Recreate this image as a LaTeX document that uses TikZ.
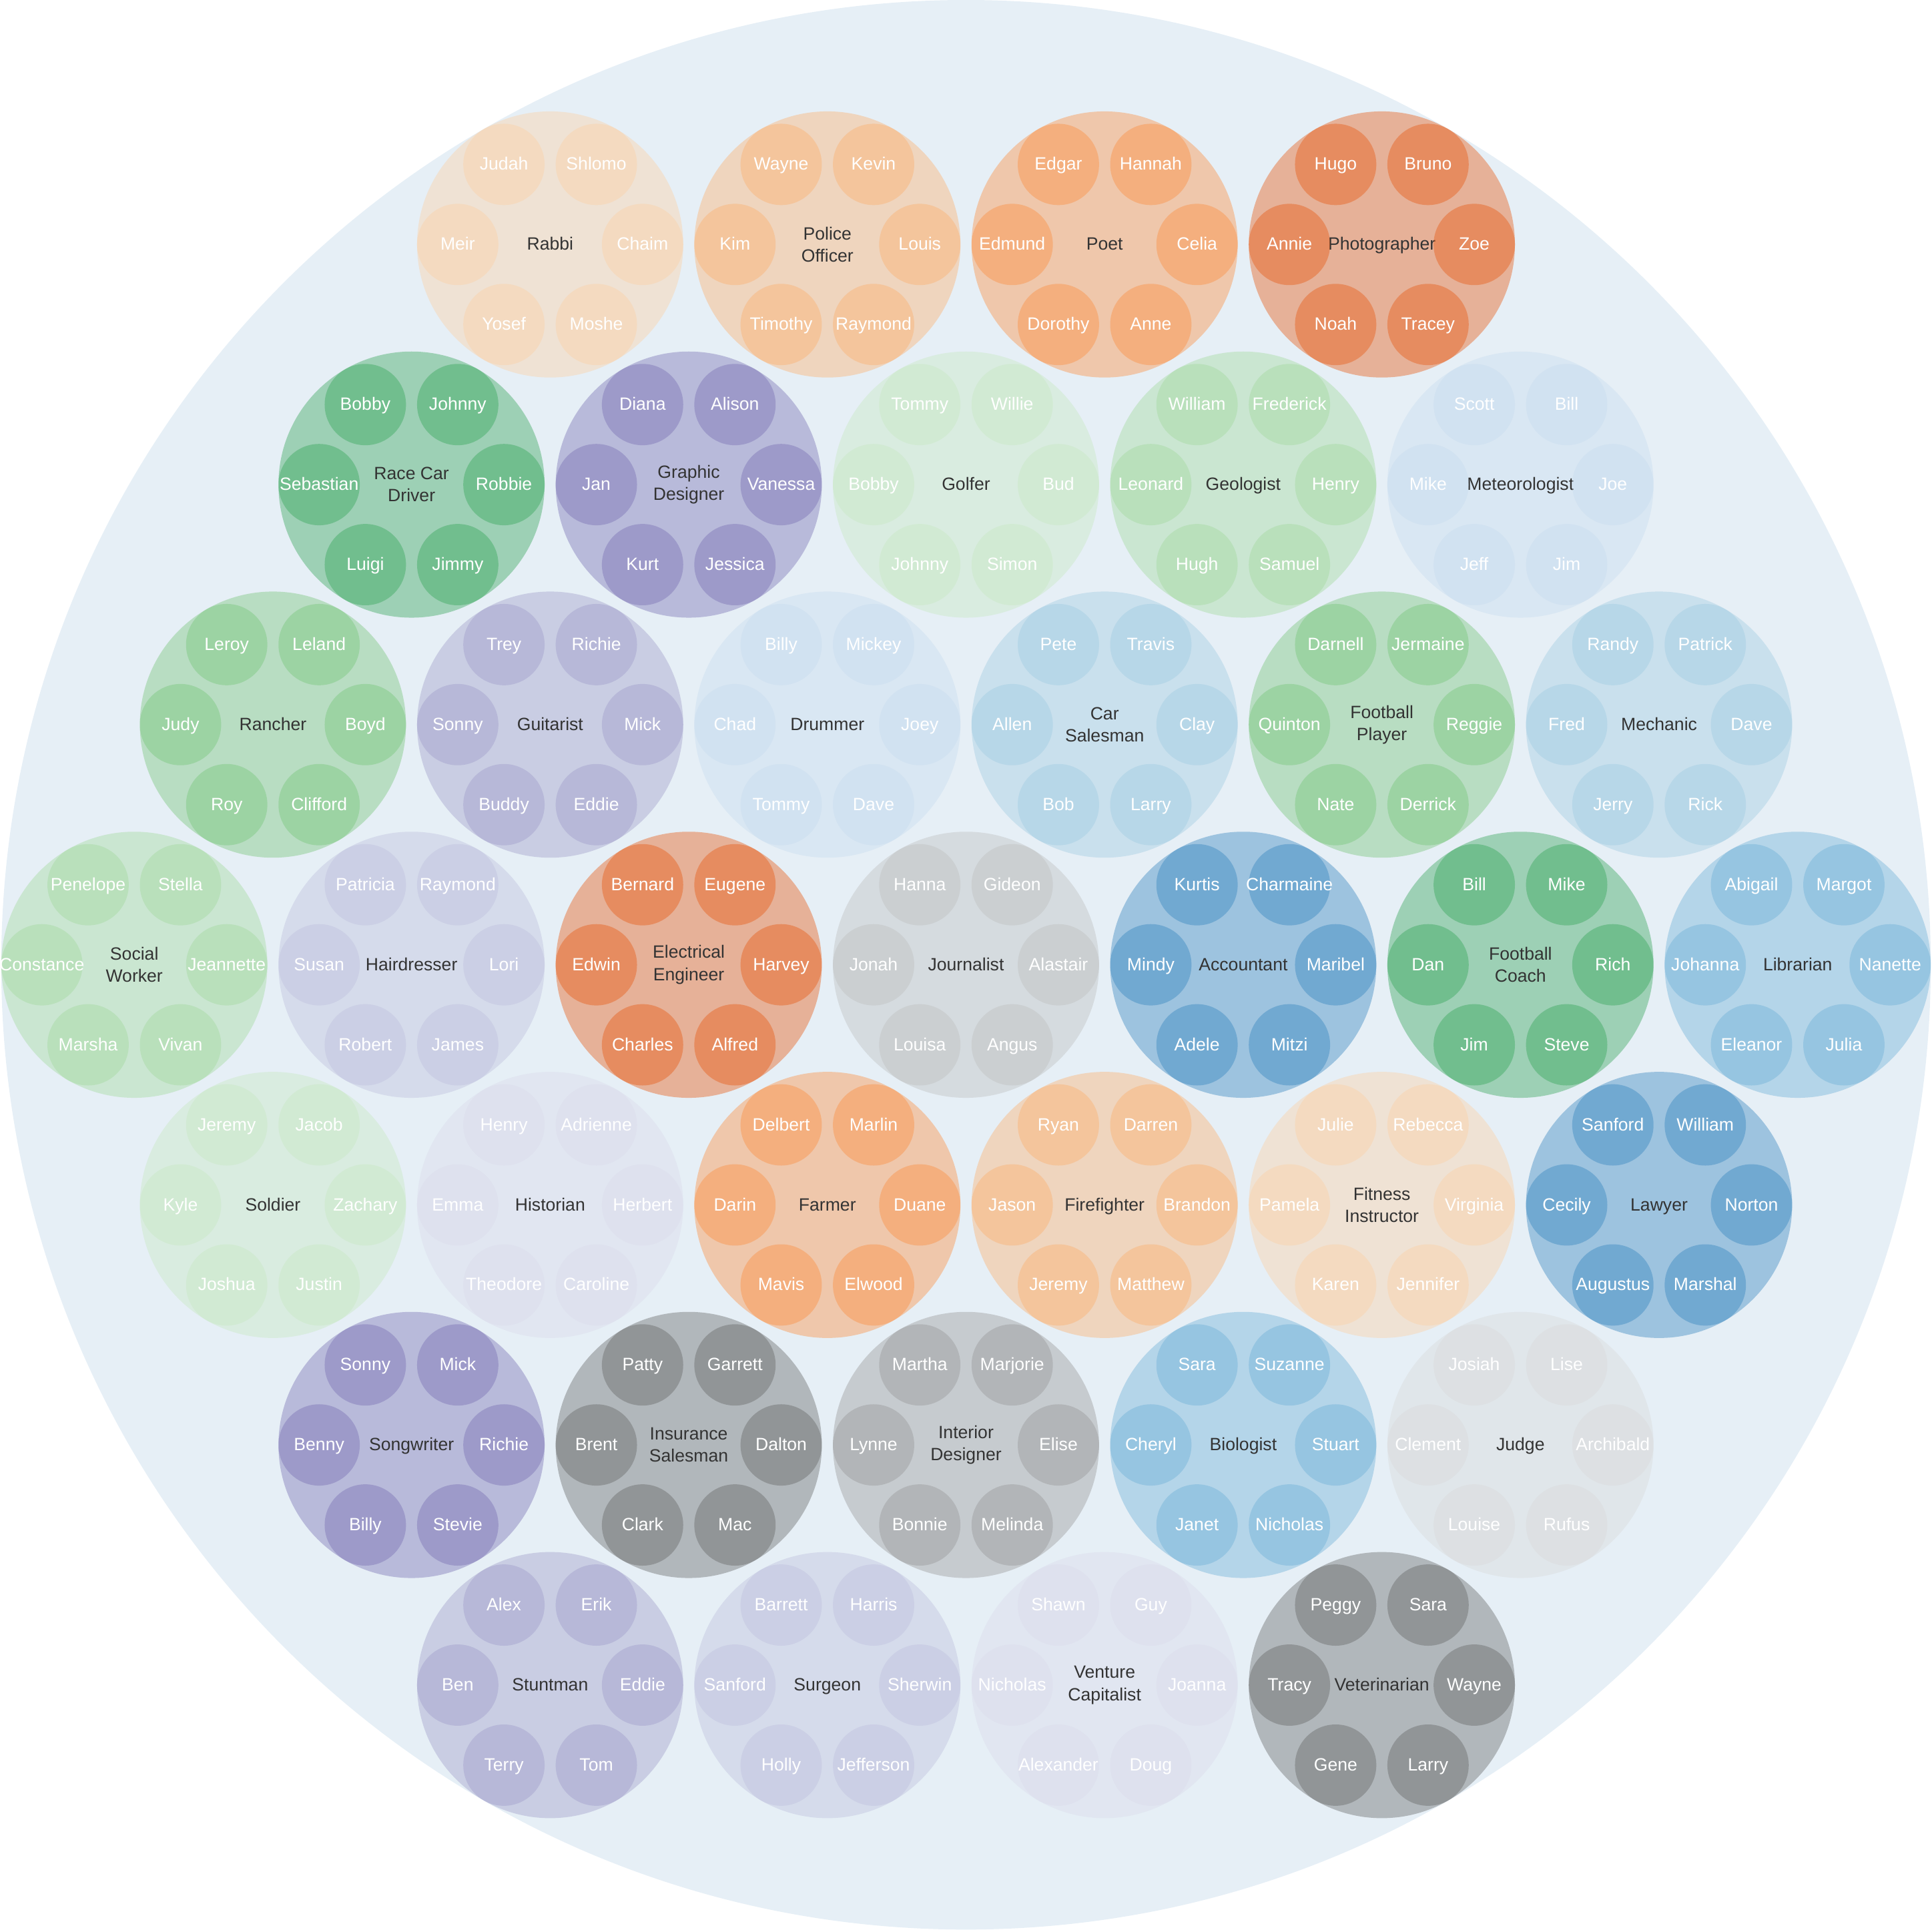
\documentclass[tikz,border=0pt]{standalone}
\usepackage{fontspec}
\setmainfont{Liberation Sans}
\usepackage{tikz}
\usetikzlibrary{calc}

% category colours
\definecolor{backblue}{HTML}{E6EFF6}
\definecolor{labelgray}{HTML}{333333}
\definecolor{bA}{HTML}{3182BD}
\definecolor{bB}{HTML}{6BAED6}
\definecolor{bC}{HTML}{9ECAE1}
\definecolor{bD}{HTML}{C6DBEF}
\definecolor{oA}{HTML}{E6550D}
\definecolor{oB}{HTML}{FD8D3C}
\definecolor{oC}{HTML}{FDAE6B}
\definecolor{oD}{HTML}{FDD0A2}
\definecolor{gA}{HTML}{31A354}
\definecolor{gB}{HTML}{74C476}
\definecolor{gC}{HTML}{A1D99B}
\definecolor{gD}{HTML}{C7E9C0}
\definecolor{pA}{HTML}{756BB1}
\definecolor{pB}{HTML}{9E9AC8}
\definecolor{pC}{HTML}{BCBDDC}
\definecolor{pD}{HTML}{DADAEB}
\definecolor{kA}{HTML}{636363}
\definecolor{kB}{HTML}{969696}
\definecolor{kC}{HTML}{BDBDBD}
\definecolor{kD}{HTML}{D9D9D9}

\tikzset{
  jobtext/.style={text=labelgray, align=center, inner sep=0pt,
    font=\fontsize{12.3pt}{15.4pt}\selectfont},
  oneline/.style={text height=10pt, text depth=2.1pt},
  whotext/.style={text=white, inner sep=0pt, oneline,
    font=\fontsize{12.3pt}{15.4pt}\selectfont},
  tint/.style={fill=#1, fill opacity=.4}
}

% #1 name, #2 centre, #3 colour, #4 label, #5 six people
\makeatletter
\newcommand{\profession}[5]{%
  \fill[tint=#3] #2 circle (108);
  \in@{\\}{#4}%
  \ifin@
    \node[jobtext] (#1) at #2 {#4};
  \else
    \node[jobtext, oneline] (#1) at #2 {#4};
  \fi
  \foreach \who [count=\k from 0] in {#5} {
    \pgfmathsetmacro{\ang}{{120,60,180,0,240,300}[\k]}
    \fill[tint=#3] ($(#1)+(\ang:75)$) circle (33);
    \node[whotext] (#1-\k) at ($(#1)+(\ang:75)$) {\who};
  }
}
\makeatother

\begin{document}
\begin{tikzpicture}[x=0.3mm,y=0.3mm]
\useasboundingbox (-784,-783) rectangle (784,783);
\fill[backblue] (0,0) circle (783);
% row 1
\profession{rabbi}{(-337.5,584.6)}{oD}{Rabbi}{Judah,Shlomo,Meir,Chaim,Yosef,Moshe}
\profession{police}{(-112.5,584.6)}{oC}{Police\\Officer}{Wayne,Kevin,Kim,Louis,Timothy,Raymond}
\profession{poet}{(112.5,584.6)}{oB}{Poet}{Edgar,Hannah,Edmund,Celia,Dorothy,Anne}
\profession{photographer}{(337.5,584.6)}{oA}{Photographer}{Hugo,Bruno,Annie,Zoe,Noah,Tracey}
% row 2
\profession{racecar}{(-450,389.7)}{gA}{Race Car\\Driver}{Bobby,Johnny,Sebastian,Robbie,Luigi,Jimmy}
\profession{graphic}{(-225,389.7)}{pA}{Graphic\\Designer}{Diana,Alison,Jan,Vanessa,Kurt,Jessica}
\profession{golfer}{(0,389.7)}{gD}{Golfer}{Tommy,Willie,Bobby,Bud,Johnny,Simon}
\profession{geologist}{(225,389.7)}{gC}{Geologist}{William,Frederick,Leonard,Henry,Hugh,Samuel}
\profession{meteorologist}{(450,389.7)}{bD}{Meteorologist}{Scott,Bill,Mike,Joe,Jeff,Jim}
% row 3
\profession{rancher}{(-562.5,194.9)}{gB}{Rancher}{Leroy,Leland,Judy,Boyd,Roy,Clifford}
\profession{guitarist}{(-337.5,194.9)}{pB}{Guitarist}{Trey,Richie,Sonny,Mick,Buddy,Eddie}
\profession{drummer}{(-112.5,194.9)}{bD}{Drummer}{Billy,Mickey,Chad,Joey,Tommy,Dave}
\profession{carsales}{(112.5,194.9)}{bC}{Car\\Salesman}{Pete,Travis,Allen,Clay,Bob,Larry}
\profession{footplayer}{(337.5,194.9)}{gB}{Football\\Player}{Darnell,Jermaine,Quinton,Reggie,Nate,Derrick}
\profession{mechanic}{(562.5,194.9)}{bC}{Mechanic}{Randy,Patrick,Fred,Dave,Jerry,Rick}
% row 4
\profession{social}{(-675,0)}{gC}{Social\\Worker}{Penelope,Stella,Constance,Jeannette,Marsha,Vivan}
\profession{hairdresser}{(-450,0)}{pC}{Hairdresser}{Patricia,Raymond,Susan,Lori,Robert,James}
\profession{eleceng}{(-225,0)}{oA}{Electrical\\Engineer}{Bernard,Eugene,Edwin,Harvey,Charles,Alfred}
\profession{journalist}{(0,0)}{kC}{Journalist}{Hanna,Gideon,Jonah,Alastair,Louisa,Angus}
\profession{accountant}{(225,0)}{bA}{Accountant}{Kurtis,Charmaine,Mindy,Maribel,Adele,Mitzi}
\profession{footcoach}{(450,0)}{gA}{Football\\Coach}{Bill,Mike,Dan,Rich,Jim,Steve}
\profession{librarian}{(675,0)}{bB}{Librarian}{Abigail,Margot,Johanna,Nanette,Eleanor,Julia}
% row 5
\profession{soldier}{(-562.5,-194.9)}{gD}{Soldier}{Jeremy,Jacob,Kyle,Zachary,Joshua,Justin}
\profession{historian}{(-337.5,-194.9)}{pD}{Historian}{Henry,Adrienne,Emma,Herbert,Theodore,Caroline}
\profession{farmer}{(-112.5,-194.9)}{oB}{Farmer}{Delbert,Marlin,Darin,Duane,Mavis,Elwood}
\profession{firefighter}{(112.5,-194.9)}{oC}{Firefighter}{Ryan,Darren,Jason,Brandon,Jeremy,Matthew}
\profession{fitness}{(337.5,-194.9)}{oD}{Fitness\\Instructor}{Julie,Rebecca,Pamela,Virginia,Karen,Jennifer}
\profession{lawyer}{(562.5,-194.9)}{bA}{Lawyer}{Sanford,William,Cecily,Norton,Augustus,Marshal}
% row 6
\profession{songwriter}{(-450,-389.7)}{pA}{Songwriter}{Sonny,Mick,Benny,Richie,Billy,Stevie}
\profession{insurance}{(-225,-389.7)}{kA}{Insurance\\Salesman}{Patty,Garrett,Brent,Dalton,Clark,Mac}
\profession{interior}{(0,-389.7)}{kB}{Interior\\Designer}{Martha,Marjorie,Lynne,Elise,Bonnie,Melinda}
\profession{biologist}{(225,-389.7)}{bB}{Biologist}{Sara,Suzanne,Cheryl,Stuart,Janet,Nicholas}
\profession{judge}{(450,-389.7)}{kD}{Judge}{Josiah,Lise,Clement,Archibald,Louise,Rufus}
% row 7
\profession{stuntman}{(-337.5,-584.6)}{pB}{Stuntman}{Alex,Erik,Ben,Eddie,Terry,Tom}
\profession{surgeon}{(-112.5,-584.6)}{pC}{Surgeon}{Barrett,Harris,Sanford,Sherwin,Holly,Jefferson}
\profession{venture}{(112.5,-584.6)}{pD}{Venture\\Capitalist}{Shawn,Guy,Nicholas,Joanna,Alexander,Doug}
\profession{vet}{(337.5,-584.6)}{kA}{Veterinarian}{Peggy,Sara,Tracy,Wayne,Gene,Larry}
\end{tikzpicture}
\end{document}
